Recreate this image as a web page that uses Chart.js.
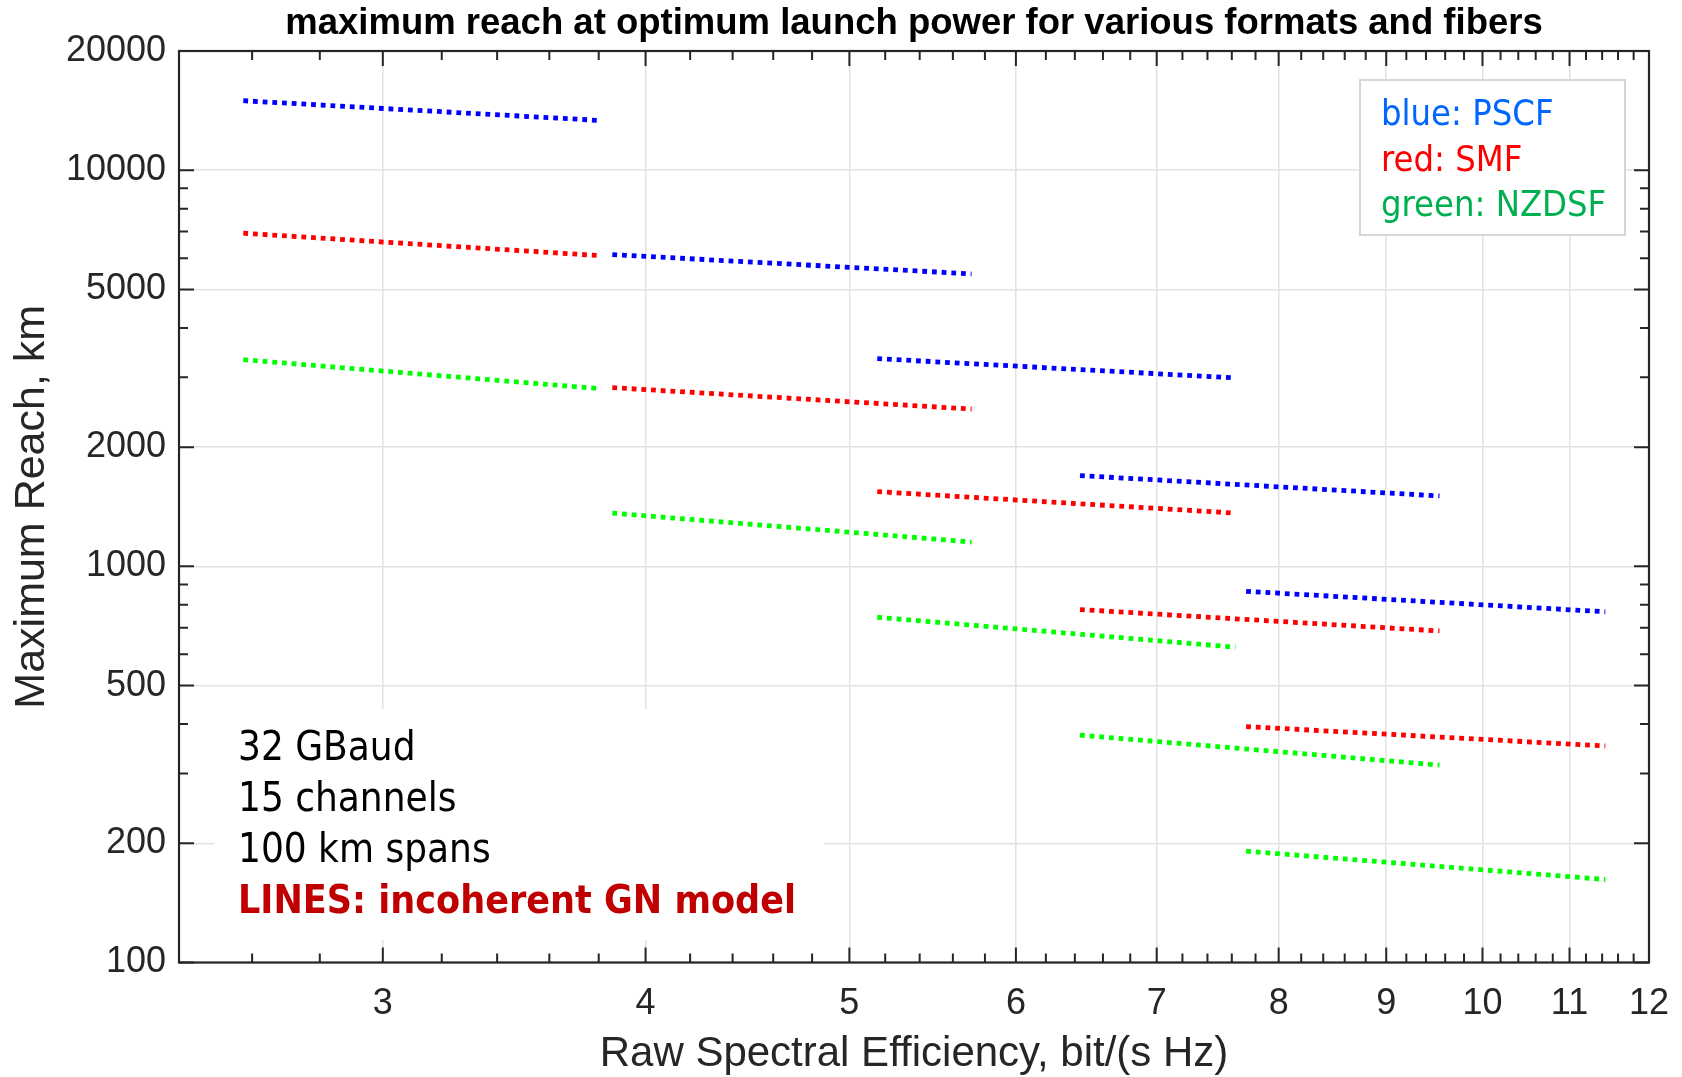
<!DOCTYPE html>
<html>
<head>
<meta charset="utf-8">
<script src="https://cdn.jsdelivr.net/npm/chart.js@4/dist/chart.umd.min.js"></script>
<style>
  html, body { margin: 0; padding: 0; background: #fff; }
  #wrap { width: 1682px; height: 1077px; }
</style>
</head>
<body>
<div id="wrap"><canvas id="c"></canvas></div>
<script>
// segment ends on the x axis (bit/(s Hz)), one segment per format
const segStart = [2.575, 3.857, 5.155, 6.436, 7.72];
const segEnd = [3.81, 5.716, 7.63, 9.54, 11.44];

// max reach in km at segment start / end
const pscfStart = [14980, 6125, 3345, 1695, 865];
const pscfEnd = [13350, 5475, 2990, 1506, 768];
const smfStart = [6935, 2827, 1544, 778, 394];
const smfEnd = [6085, 2495, 1363, 687, 352];
const nzdsfStart = [3325, 1363, 744, 375, 191];
const nzdsfEnd = [2808, 1152, 625, 315, 162];

const xMajor = [3, 4, 5, 6, 7, 8, 9, 10, 11, 12];
const yMajor = [100, 200, 500, 1000, 2000, 5000, 10000, 20000];
const yMinor = [300, 400, 600, 700, 800, 900, 3000, 4000, 6000, 7000, 8000, 9000];
const xMinor = [2.6, 2.8, 3.2, 3.4, 3.6, 3.8, 4.2, 4.4, 4.6, 4.8, 5.2, 5.4, 5.6, 5.8,
  6.2, 6.4, 6.6, 6.8, 7.2, 7.4, 7.6, 7.8, 8.2, 8.4, 8.6, 8.8, 9.2, 9.4, 9.6, 9.8,
  10.2, 10.4, 10.6, 10.8, 11.2, 11.4, 11.6, 11.8];

const legendLines = [
  ["blue: PSCF", "#0066ff"],
  ["red: SMF", "#ff0000"],
  ["green: NZDSF", "#00b050"]
];
const noteLines = ["32 GBaud", "15 channels", "100 km spans"];
const noteModel = "LINES: incoherent GN model";

const AX = "#262626";
const condensed = '"DejaVu Sans Condensed", "Liberation Sans Narrow", "DejaVu Sans", sans-serif';

function segs(starts, ends, color) {
  return starts.map((s, i) => ({
    data: [{ x: segStart[i], y: s }, { x: segEnd[i], y: ends[i] }],
    borderColor: color,
    borderWidth: 4.8,
    borderDash: [4.8, 4.9],
    borderCapStyle: "butt",
    pointRadius: 0,
    fill: false,
    tension: 0
  }));
}

const datasets = [
  ...segs(pscfStart, pscfEnd, "#0000ff"),
  ...segs(smfStart, smfEnd, "#ff0000"),
  ...segs(nzdsfStart, nzdsfEnd, "#00ff00")
];

const boxes = {
  id: "boxes",
  beforeDatasetsDraw(chart) {
    const ctx = chart.ctx;
    ctx.save();
    ctx.fillStyle = "#fff";
    ctx.fillRect(214, 709, 610, 231);
    ctx.fillRect(1360, 80, 265, 155);
    ctx.restore();
  },
  afterDraw(chart) {
    const ctx = chart.ctx;
    const a = chart.chartArea;
    const xs = chart.scales.x, ys = chart.scales.y;
    ctx.save();

    // ticks pointing inward on all four sides
    ctx.strokeStyle = AX;
    ctx.lineWidth = 2;
    ctx.beginPath();
    const tx = (v, len) => {
      const p = xs.getPixelForValue(v);
      ctx.moveTo(p, a.bottom); ctx.lineTo(p, a.bottom - len);
      ctx.moveTo(p, a.top); ctx.lineTo(p, a.top + len);
    };
    const ty = (v, len) => {
      const p = ys.getPixelForValue(v);
      ctx.moveTo(a.left, p); ctx.lineTo(a.left + len, p);
      ctx.moveTo(a.right, p); ctx.lineTo(a.right - len, p);
    };
    xMajor.forEach(v => tx(v, 15));
    xMinor.forEach(v => tx(v, 9));
    yMajor.forEach(v => ty(v, 15));
    yMinor.forEach(v => ty(v, 9));
    ctx.stroke();

    ctx.lineWidth = 2.2;
    ctx.strokeRect(a.left, a.top, a.right - a.left, a.bottom - a.top);

    // title
    ctx.fillStyle = "#000";
    ctx.font = "bold 36.5px 'Liberation Sans', Arial, sans-serif";
    ctx.textAlign = "center";
    ctx.textBaseline = "middle";
    ctx.fillText("maximum reach at optimum launch power for various formats and fibers", (a.left + a.right) / 2, 24);

    // legend box
    ctx.strokeStyle = "#d6d6d6";
    ctx.lineWidth = 2;
    ctx.strokeRect(1360, 80, 265, 155);
    ctx.textAlign = "left";
    ctx.font = "36px " + condensed;
    legendLines.forEach((l, i) => {
      ctx.fillStyle = l[1];
      ctx.fillText(l[0], 1381, 116 + i * 45.5);
    });

    // notes
    ctx.font = "40px " + condensed;
    ctx.fillStyle = "#000";
    noteLines.forEach((t, i) => ctx.fillText(t, 238, 749.5 + i * 51));
    ctx.font = "bold 39px " + condensed;
    ctx.fillStyle = "#c00000";
    ctx.fillText(noteModel, 238, 902.5);
    ctx.restore();
  }
};

new Chart(document.getElementById("c"), {
  type: "line",
  data: { datasets },
  plugins: [boxes],
  options: {
    responsive: true,
    maintainAspectRatio: false,
    animation: false,
    layout: { padding: { top: 51, right: 33, bottom: 0, left: 0 } },
    plugins: { legend: { display: false }, tooltip: { enabled: false } },
    scales: {
      x: {
        type: "logarithmic",
        min: 2.4,
        max: 12,
        afterBuildTicks: s => { s.ticks = xMajor.map(v => ({ value: v })); },
        afterFit: s => { s.height = 114.5; s.paddingLeft = 0; s.paddingRight = 0; },
        grid: { color: "#e2e2e2", lineWidth: 1.5, drawTicks: false },
        border: { display: false },
        ticks: {
          autoSkip: false, maxRotation: 0, padding: 20, color: AX,
          font: { family: "'Liberation Sans', Arial, sans-serif", size: 36 },
          callback: v => String(v)
        },
        title: {
          display: true, text: "Raw Spectral Efficiency, bit/(s Hz)", color: AX,
          font: { family: "'Liberation Sans', Arial, sans-serif", size: 42, lineHeight: 1 },
          padding: { top: 0, bottom: 2 }
        }
      },
      y: {
        type: "logarithmic",
        min: 100,
        max: 20000,
        afterBuildTicks: s => { s.ticks = yMajor.map(v => ({ value: v })); },
        afterFit: s => { s.width = 179; s.paddingTop = 0; s.paddingBottom = 0; },
        grid: { color: "#e2e2e2", lineWidth: 1.5, drawTicks: false },
        border: { display: false },
        ticks: {
          autoSkip: false, padding: 13, color: AX,
          font: { family: "'Liberation Sans', Arial, sans-serif", size: 36 },
          callback: v => String(v)
        },
        title: {
          display: true, text: "Maximum Reach, km", color: AX,
          font: { family: "'Liberation Sans', Arial, sans-serif", size: 43, lineHeight: 1 },
          padding: { top: 11, bottom: 0 }
        }
      }
    }
  }
});
</script>
</body>
</html>
